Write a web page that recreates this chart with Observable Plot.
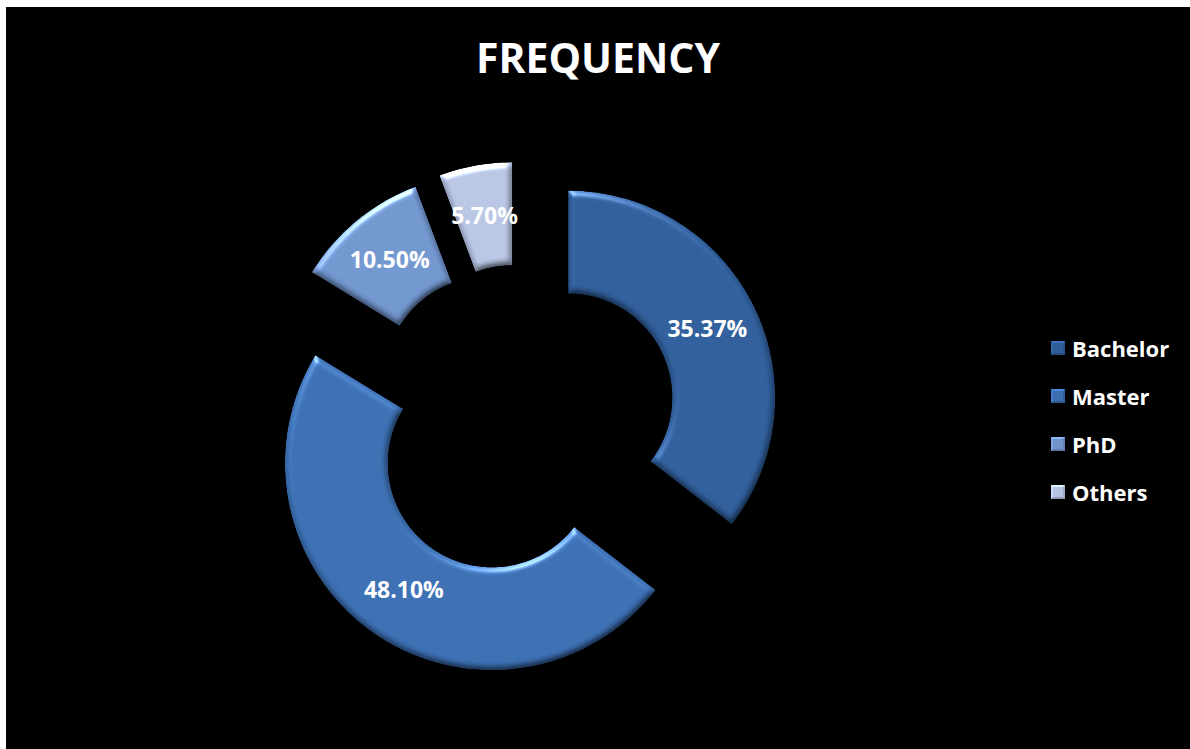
<!DOCTYPE html>
<html>
<head>
<meta charset="utf-8">
<script src="https://cdn.jsdelivr.net/npm/d3@7"></script>
<script src="https://cdn.jsdelivr.net/npm/@observablehq/plot@0.6"></script>
<style>
  html, body { margin: 0; padding: 0; background: #ffffff; }
  #frame { position: absolute; left: 6px; top: 7px; width: 1184px; height: 742px; background: #000; overflow: hidden; font-family: "Open Sans", "Liberation Sans", sans-serif; }
  #title { position: absolute; left: 0; width: 1184px; top: 22px; text-align: center; color: #fff; font-weight: 700; font-size: 41px; }
  #chart { position: absolute; left: 0; top: 0; }
  #legend { position: absolute; left: 1045px; top: 317px; color: #fff; font-weight: 700; font-size: 22px; }
  .item { height: 48px; display: flex; align-items: center; }
  .sw { width: 14px; height: 14px; margin-right: 7px; box-sizing: border-box; border: 2px solid; }
</style>
</head>
<body>
<div id="frame">
  <div id="title">FREQUENCY</div>
  <div id="chart"></div>
  <div id="legend"></div>
</div>
<script>
const categories = ["Bachelor", "Master", "PhD", "Others"];
const values = [35.37, 48.10, 10.50, 5.70];
const colors = ["#2f5d99", "#3b6eb1", "#7094cc", "#b6c4e2"];

// layout constants (pixels)
const W = 1184, H = 742;
const CX = 515, CY = 413;
const R = 207, r = 104, EXPLODE = 52, LABEL_R = 155;

const pie = d3.pie().sort(null).value(d => d.value).startAngle(0).endAngle(2 * Math.PI);
const arcs = pie(categories.map((c, i) => ({name: c, value: values[i]})));

const polyPts = [];
const labelPts = [];
arcs.forEach(a => {
  const m = (a.startAngle + a.endAngle) / 2;
  const ox = EXPLODE * Math.sin(m), oy = -EXPLODE * Math.cos(m);
  const n = Math.max(4, Math.ceil((a.endAngle - a.startAngle) / (Math.PI / 180)));
  const pts = [];
  for (let k = 0; k <= n; k++) {
    const t = a.startAngle + (a.endAngle - a.startAngle) * k / n;
    pts.push({name: a.data.name, x: ox + R * Math.sin(t), y: oy - R * Math.cos(t)});
  }
  for (let k = n; k >= 0; k--) {
    const t = a.startAngle + (a.endAngle - a.startAngle) * k / n;
    pts.push({name: a.data.name, x: ox + r * Math.sin(t), y: oy - r * Math.cos(t)});
  }
  polyPts.push(...pts);
  labelPts.push({name: a.data.name, x: ox + LABEL_R * Math.sin(m), y: oy - LABEL_R * Math.cos(m), label: a.data.value.toFixed(2) + "%"});
});

const plot = Plot.plot({
  width: W,
  height: H,
  margin: 0,
  style: {background: "transparent", overflow: "visible"},
  x: {domain: [-CX, W - CX], range: [0, W], axis: null},
  y: {domain: [-CY, H - CY], range: [0, H], axis: null},
  color: {domain: categories, range: colors},
  marks: [
    Plot.line(polyPts, {x: "x", y: "y", z: "name", fill: "name", stroke: "none", curve: "linear-closed"}),
    Plot.text(labelPts, {x: "x", y: "y", text: "label", fill: "#ffffff", fontSize: 23, fontWeight: 700, fontFamily: "Open Sans, Liberation Sans, sans-serif"})
  ]
});

// bevel filter
const ns = "http://www.w3.org/2000/svg";
const defs = document.createElementNS(ns, "defs");
defs.innerHTML = `
<filter id="bevel" x="-5%" y="-5%" width="110%" height="110%" color-interpolation-filters="sRGB">
  <feGaussianBlur in="SourceAlpha" stdDeviation="3" result="blur"/>
  <feDiffuseLighting in="blur" surfaceScale="3" diffuseConstant="1" lighting-color="#ffffff" result="diff">
    <feDistantLight azimuth="250" elevation="60"/>
  </feDiffuseLighting>
  <feComposite in="SourceGraphic" in2="diff" operator="arithmetic" k1="1.155" k2="0" k3="0" k4="0" result="lit"/>
  <feSpecularLighting in="blur" surfaceScale="4" specularConstant="0.45" specularExponent="20" lighting-color="#ffffff" result="spec">
    <feDistantLight azimuth="250" elevation="25"/>
  </feSpecularLighting>
  <feComposite in="spec" in2="SourceAlpha" operator="in" result="specIn"/>
  <feComposite in="lit" in2="specIn" operator="arithmetic" k1="0" k2="1" k3="1" k4="0" result="sum"/>
  <feComposite in="sum" in2="SourceAlpha" operator="in"/>
</filter>`;
plot.insertBefore(defs, plot.firstChild);
plot.querySelectorAll('g[aria-label="line"] path').forEach(p => p.setAttribute("filter", "url(#bevel)"));

document.getElementById("chart").appendChild(plot);

// legend
const legend = document.getElementById("legend");
categories.forEach((c, i) => {
  const item = document.createElement("div");
  item.className = "item";
  const sw = document.createElement("span");
  sw.className = "sw";
  const base = d3.color(colors[i]);
  sw.style.background = colors[i];
  sw.style.borderColor = `${base.brighter(0.6)} ${base.darker(0.4)} ${base.darker(0.6)} ${base.brighter(0.3)}`;
  const t = document.createElement("span");
  t.textContent = c;
  item.appendChild(sw);
  item.appendChild(t);
  legend.appendChild(item);
});
</script>
</body>
</html>
